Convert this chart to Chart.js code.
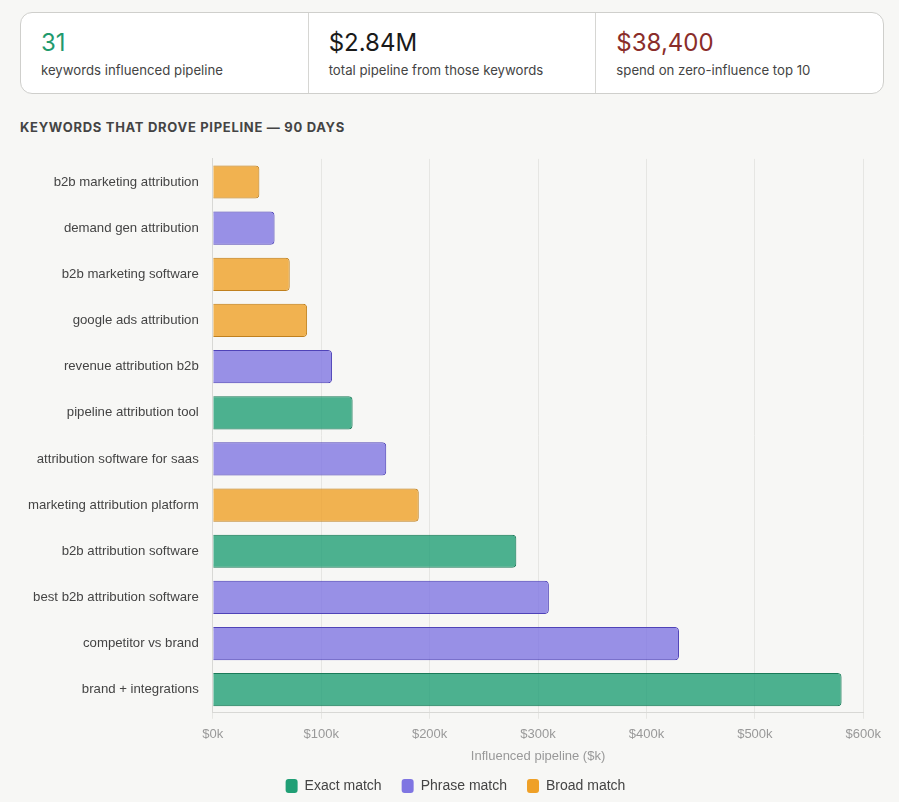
<!DOCTYPE html>
<html>
<head>
<meta charset="utf-8">
<script src="https://cdn.jsdelivr.net/npm/chart.js@4.4.1/dist/chart.umd.min.js"></script>
<style>
  html, body { margin: 0; padding: 0; background: #f7f7f5; }
  body { width: 899px; height: 802px; overflow: hidden; font-family: Inter, "Noto Sans", sans-serif; }
  .kpis {
    position: absolute; left: 20px; top: 12px; width: 862px; height: 80px;
    background: #fff; border: 1px solid #cfcfcc; border-radius: 12px;
    display: flex;
  }
  .kpi { flex: 1; padding: 15px 20px 0 20px; border-left: 1px solid #d6d6d3; }
  .kpi:first-child { border-left: none; }
  .kpi .num { font-size: 24px; line-height: 30px; color: #1a1a1a; }
  .kpi .lbl { font-size: 13.2px; line-height: 20px; color: #444; margin-top: 2px; }
  .title {
    position: absolute; left: 20px; top: 119px;
    font-size: 13px; font-weight: 700; letter-spacing: 0.7px; color: #444;
  }
  .chart-box { position: absolute; left: 22px; top: 145px; width: 867px; height: 658px; }
</style>
</head>
<body>
<div class="kpis">
  <div class="kpi"><div class="num" style="color:#1f9a6e">31</div><div class="lbl">keywords influenced pipeline</div></div>
  <div class="kpi"><div class="num">$2.84M</div><div class="lbl">total pipeline from those keywords</div></div>
  <div class="kpi"><div class="num" style="color:#8a2d2a">$38,400</div><div class="lbl">spend on zero-influence top 10</div></div>
</div>
<div class="title">KEYWORDS THAT DROVE PIPELINE — 90 DAYS</div>
<div class="chart-box"><canvas id="chart"></canvas></div>

<script>
const keywords = [
  "b2b marketing attribution",
  "demand gen attribution",
  "b2b marketing software",
  "google ads attribution",
  "revenue attribution b2b",
  "pipeline attribution tool",
  "attribution software for saas",
  "marketing attribution platform",
  "b2b attribution software",
  "best b2b attribution software",
  "competitor vs brand",
  "brand + integrations"
];
// influenced pipeline in $k
const pipelineK = [43, 57, 71, 87, 110, 129, 160, 190, 280, 310, 430, 580];
const matchTypes = ["Broad", "Phrase", "Broad", "Broad", "Phrase", "Exact", "Phrase", "Broad", "Exact", "Phrase", "Phrase", "Exact"];
const matchNames = ["Exact", "Phrase", "Broad"];
const xTicks = [0, 100, 200, 300, 400, 500, 600];

const colors = {
  Exact: { solid: "#209f75", fill: "rgba(32,159,117,0.8)", border: "#1a7a58" },
  Phrase: { solid: "#7f75e2", fill: "rgba(127,117,226,0.8)", border: "#4f43b8" },
  Broad: { solid: "#efa027", fill: "rgba(239,160,39,0.8)", border: "#c0801e" }
};

const datasets = matchNames.map(m => ({
  label: m + " match",
  data: pipelineK.map((v, i) => matchTypes[i] === m ? v : null),
  backgroundColor: colors[m].fill,
  borderColor: colors[m].border,
  borderWidth: 1,
  borderRadius: 4,
  borderSkipped: "start"
}));

const font = "'Liberation Sans', Arial, sans-serif";

new Chart(document.getElementById("chart"), {
  type: "bar",
  data: { labels: keywords, datasets: datasets },
  options: {
    indexAxis: "y",
    responsive: true,
    maintainAspectRatio: false,
    animation: false,
    grouped: false,
    layout: { padding: { top: 4, right: 0 } },
    scales: {
      x: {
        min: 0,
        max: 600,
        afterBuildTicks: axis => { axis.ticks = xTicks.map(v => ({ value: v })); },
        ticks: {
          callback: v => "$" + v + "k",
          color: "#999",
          font: { family: font, size: 13 },
          padding: 8
        },
        grid: { color: "#e6e6e3", drawTicks: true, tickLength: 6 },
        border: { color: "#d8d8d5" },
        title: {
          display: true,
          text: "Influenced pipeline ($k)",
          color: "#999",
          font: { family: font, size: 13 },
          padding: { top: -2, bottom: -5 }
        }
      },
      y: {
        ticks: {
          color: "#444",
          font: { family: font, size: 13.2 },
          padding: 6
        },
        grid: { display: false },
        border: { color: "#d8d8d5" }
      }
    },
    plugins: {
      legend: {
        position: "bottom",
        labels: {
          color: "#444",
          font: { family: font, size: 14 },
          boxWidth: 12,
          boxHeight: 14,
          padding: 20,
          useBorderRadius: true,
          borderRadius: 3,
          generateLabels: chart => chart.data.datasets.map((ds, i) => ({
            text: ds.label,
            fillStyle: colors[matchNames[i]].solid,
            strokeStyle: colors[matchNames[i]].solid,
            lineWidth: 0,
            borderRadius: 3,
            datasetIndex: i,
            fontColor: "#444"
          }))
        }
      },
      tooltip: { enabled: false }
    }
  }
});
</script>
</body>
</html>
